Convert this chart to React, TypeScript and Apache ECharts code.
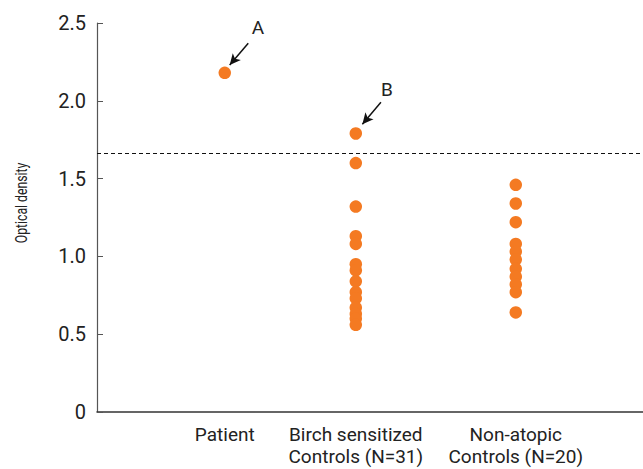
import React, { useEffect, useRef } from "react";
import * as echarts from "echarts";

const groupNames = ["Patient", "Birch sensitized\nControls (N=31)", "Non-atopic\nControls (N=20)"];
const groupX = [2.34, 4.74, 7.67];
const patientValues = [2.18];
const birchValues = [1.79, 1.6, 1.32, 1.13, 1.08, 0.95, 0.91, 0.84, 0.77, 0.73, 0.67, 0.63, 0.6, 0.56];
const nonAtopicValues = [1.46, 1.34, 1.22, 1.08, 1.03, 0.98, 0.92, 0.87, 0.82, 0.77, 0.64];
const cutoff = 1.665;
const yTicks = [0, 0.5, 1.0, 1.5, 2.0, 2.5];
// annotation arrows: [startX, startY, endX, endY] in data units
const arrowA = [2.77, 2.37, 2.43, 2.23];
const arrowB = [5.2, 1.99, 4.86, 1.85];
const labelA = [2.95, 2.47];
const labelB = [5.31, 2.07];

const FONT = "Roboto, 'Liberation Sans', sans-serif";
const ORANGE = "#F47A22";

export default function App() {
  const ref = useRef<HTMLDivElement>(null);
  useEffect(() => {
    if (!ref.current) return;
    const chart = echarts.init(ref.current, undefined, { renderer: "svg" });
    const pts = (x: number, vals: number[]) => vals.map((v) => [x, v]);
    const data = [
      ...pts(groupX[0], patientValues),
      ...pts(groupX[1], birchValues),
      ...pts(groupX[2], nonAtopicValues),
    ];
    chart.setOption({
      animation: false,
      grid: { left: 97, right: 0, top: 23, bottom: 57, containLabel: false },
      xAxis: {
        type: "value",
        min: 0,
        max: 10,
        splitLine: { show: false },
        axisLine: { show: true, lineStyle: { color: "#333", width: 1.5 } },
        axisTick: { show: false },
        axisLabel: {
          show: true,
          customValues: groupX,
          formatter: (v: number) => {
            const i = groupX.findIndex((g) => Math.abs(g - v) < 1e-6);
            return i >= 0 ? groupNames[i] : "";
          },
          fontFamily: FONT,
          fontSize: 19,
          color: "#222",
          lineHeight: 22,
          margin: 11,
          align: "center",
        },
      },
      yAxis: {
        type: "value",
        min: 0,
        max: 2.5,
        interval: 0.5,
        splitLine: { show: false },
        axisLine: { show: true, lineStyle: { color: "#555", width: 1.2 } },
        axisTick: { show: true, inside: true, length: 6, lineStyle: { color: "#555" } },
        axisLabel: {
          fontFamily: FONT,
          fontSize: 20,
          color: "#222",
          margin: 11,
          formatter: (v: number) => (v === 0 ? "0" : yTicks.includes(v) ? v.toFixed(1) : ""),
        },
      },
      graphic: [
        {
          type: "text",
          x: 21,
          y: 203,
          rotation: Math.PI / 2,
          scaleX: 0.72,
          style: {
            text: "Optical density",
            fontFamily: FONT,
            fontSize: 17,
            fill: "#222",
            textAlign: "center",
            textVerticalAlign: "middle",
          },
        },
      ],
      series: [
        {
          type: "scatter",
          data,
          symbol: "circle",
          symbolSize: 12.5,
          itemStyle: { color: ORANGE, opacity: 1 },
          markLine: {
            silent: true,
            symbol: ["none", "none"],
            label: { show: false },
            data: [
              [
                { coord: [0, cutoff], lineStyle: { type: [4, 3], color: "#111", width: 1 } },
                { coord: [10, cutoff] },
              ],
              [
                { coord: [arrowA[0], arrowA[1]], symbol: "none", lineStyle: { type: "solid", color: "#111", width: 1.5 } },
                { coord: [arrowA[2], arrowA[3]], symbol: "arrow", symbolSize: [8, 11] },
              ],
              [
                { coord: [arrowB[0], arrowB[1]], symbol: "none", lineStyle: { type: "solid", color: "#111", width: 1.5 } },
                { coord: [arrowB[2], arrowB[3]], symbol: "arrow", symbolSize: [8, 11] },
              ],
            ],
          },
          markPoint: {
            silent: true,
            symbol: "circle",
            symbolSize: 1,
            itemStyle: { color: "rgba(0,0,0,0)" },
            label: {
              show: true,
              position: "inside",
              fontFamily: FONT,
              fontSize: 19,
              color: "#222",
            },
            data: [
              { coord: labelA, value: "A", label: { formatter: "A" } },
              { coord: labelB, value: "B", label: { formatter: "B" } },
            ],
          },
        },
      ],
    });
    return () => chart.dispose();
  }, []);
  return <div ref={ref} style={{ width: 643, height: 469, position: "absolute", left: 0, top: 0 }} />;
}
